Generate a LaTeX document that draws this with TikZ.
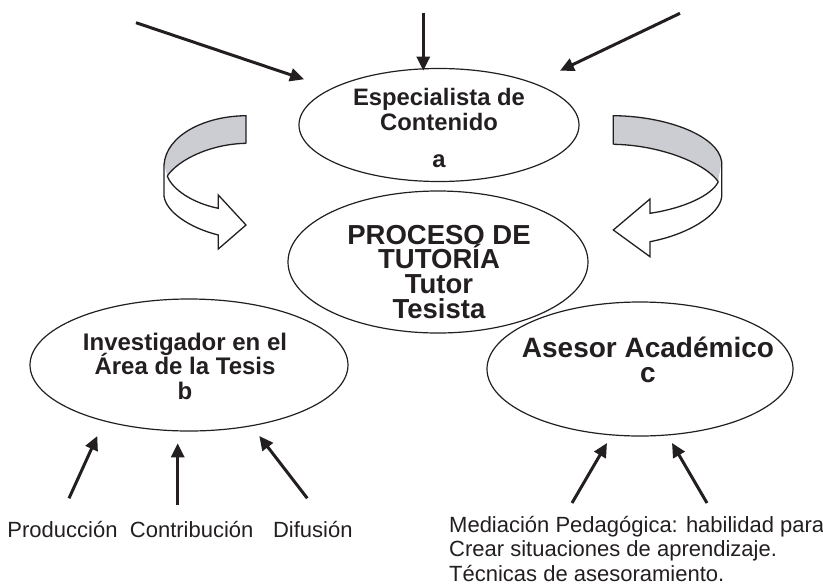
\documentclass[tikz,border=0pt]{standalone}
\usepackage{fontspec}
\setmainfont{Liberation Sans}
\usetikzlibrary{shapes.geometric,arrows.meta}
\definecolor{ink}{RGB}{35,31,32}
\definecolor{band}{RGB}{203,205,211}
\begin{document}
\begin{tikzpicture}[x=1pt,y=-1pt,
  oval/.style={draw=ink, line width=1.2pt, ellipse, inner sep=0pt},
  bline/.style={anchor=base, inner sep=0pt, text=ink, font=\fontsize{#1}{#1}\selectfont\bfseries},
  rline/.style={anchor=base, inner sep=0pt, text=ink, font=\fontsize{22}{22}\selectfont},
  lline/.style={anchor=base west, inner sep=0pt, text=ink, font=\fontsize{22}{22}\selectfont},
  feed/.style={draw=ink, line width=3pt, -{Triangle[length=14pt,width=13pt]}},
  ribbon/.style={draw=ink, line width=1.3pt, line join=miter}]
\useasboundingbox (0,0) rectangle (823,587);

% ellipses
\node[oval, minimum width=280pt, minimum height=113pt] (esp) at (439,125) {};
\node[oval, minimum width=300pt, minimum height=142pt] (proc) at (438,262) {};
\node[oval, minimum width=318pt, minimum height=132pt] (inv) at (189,365) {};
\node[oval, minimum width=306pt, minimum height=134pt] (ase) at (640,369) {};

% texts
\node[bline=23.8] (e1) at (439,105) {Especialista de};
\node[bline=23.8] (e2) at (439,130.7) {Contenido};
\node[bline=23.8] (e3) at (439,167.3) {a};
\node[bline=27.5] (p1) at (439,244.3) {PROCESO DE};
\node[bline=27.5] (p2) at (439,268.3) {TUTORÍA};
\node[bline=27.5] (p3) at (439,293.3) {Tutor};
\node[bline=27.5] (p4) at (439,318.3) {Tesista};
\node[bline=24] (i1) at (185,350) {Investigador en el};
\node[bline=24] (i2) at (185,374) {Área de la Tesis};
\node[bline=24] (i3) at (185,399.3) {b};
\node[bline=28] (a1) at (648,357.3) {Asesor Académico};
\node[bline=28] (a2) at (648,382) {c};
\node[rline] (l1) at (62.5,537.3) {Producción};
\node[rline] (l2) at (191.7,537.3) {Contribución};
\node[rline] (l3) at (312.8,537.3) {Difusión};
\node[lline] (m1) at (449,532) {Mediación Pedagógica: habilidad para};
\node[lline] (m2) at (449,556.5) {Crear situaciones de aprendizaje.};
\node[lline] (m3) at (449,581) {Técnicas de asesoramiento.};

% straight arrows
\coordinate (t1s) at (136,22.7);   \coordinate (t1e) at (304,79.3);
\coordinate (t2s) at (423.3,12.7); \coordinate (t2e) at (423.3,70.7);
\coordinate (t3s) at (680,13.3);   \coordinate (t3e) at (560,70.7);
\coordinate (b1s) at (69,498.3);   \coordinate (b1e) at (97.3,436);
\coordinate (b2s) at (177.7,505);  \coordinate (b2e) at (177.7,443.3);
\coordinate (b3s) at (307.3,498.3);\coordinate (b3e) at (259.3,436);
\coordinate (c1s) at (572,503);    \coordinate (c1e) at (607,443);
\coordinate (c2s) at (707,503);    \coordinate (c2e) at (672,443);
\draw[feed] (t1s) -- (t1e);
\draw[feed] (t2s) -- (t2e);
\draw[feed] (t3s) -- (t3e);
\draw[feed] (b1s) -- (b1e);
\draw[feed] (b2s) -- (b2e);
\draw[feed] (b3s) -- (b3e);
\draw[feed] (c1s) -- (c1e);
\draw[feed] (c2s) -- (c2e);

% left ribbon arrow
\fill[band] (246,115.7) .. controls (205,116) and (166,135) .. (164,165) -- (167.3,176) .. controls (178,160) and (210,144) .. (246,143.3) -- cycle;
\filldraw[ribbon, fill=white] (164,165) -- (164,196) .. controls (166,212) and (190,228) .. (218.3,235) -- (218.3,249) -- (246,225) -- (218.3,195) -- (218.3,208.3) .. controls (192,203) and (172,189) .. (167.3,176);
\draw[ribbon] (246,143.3) -- (246,115.7) .. controls (205,116) and (166,135) .. (164,165);
\draw[ribbon] (246,143.3) .. controls (210,144) and (178,160) .. (167.3,176);

% right ribbon arrow
\fill[band] (613.3,115.7) .. controls (665,116) and (718,135) .. (721.7,161.7) -- (718.3,181.7) .. controls (705,163) and (660,145) .. (613.3,144.3) -- cycle;
\filldraw[ribbon, fill=white] (721.7,161.7) -- (721.7,196.7) .. controls (720,214) and (690,234) .. (650,241.7) -- (650,256.7) -- (613.3,230) -- (650,199) -- (650,213.3) .. controls (685,208) and (712,195) .. (718.3,181.7);
\draw[ribbon] (613.3,144.3) -- (613.3,115.7) .. controls (665,116) and (718,135) .. (721.7,161.7);
\draw[ribbon] (613.3,144.3) .. controls (660,145) and (705,163) .. (718.3,181.7);
\end{tikzpicture}
\end{document}
